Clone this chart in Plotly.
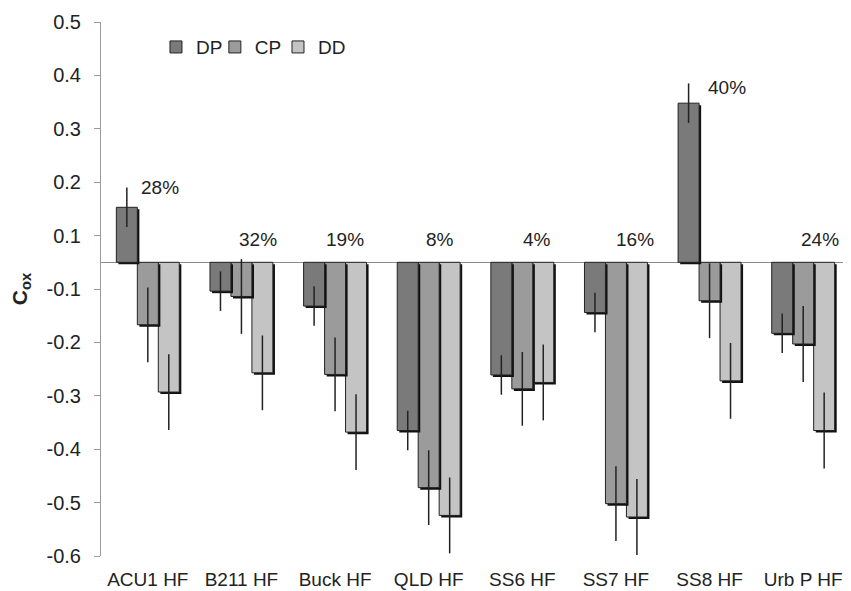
import plotly.graph_objects as go

categories = ["ACU1 HF", "B211 HF", "Buck HF", "QLD HF", "SS6 HF", "SS7 HF", "SS8 HF", "Urb P HF"]
series_names = ["DP", "CP", "DD"]

# values measured from the common baseline of the bars
dp_values = [0.103, -0.054, -0.082, -0.315, -0.211, -0.094, 0.298, -0.133]
cp_values = [-0.117, -0.064, -0.210, -0.422, -0.237, -0.452, -0.072, -0.153]
dd_values = [-0.243, -0.207, -0.318, -0.474, -0.225, -0.477, -0.222, -0.315]

dp_err = [0.037, 0.037, 0.037, 0.037, 0.037, 0.037, 0.037, 0.037]
cp_err = [0.070, 0.070, 0.069, 0.070, 0.069, 0.070, 0.070, 0.071]
dd_err = [0.071, 0.070, 0.071, 0.071, 0.071, 0.071, 0.071, 0.071]

pct_labels = ["28%", "32%", "19%", "8%", "4%", "16%", "40%", "24%"]
pct_y = [0.140, 0.0425, 0.0425, 0.0425, 0.0425, 0.0425, 0.328, 0.0425]

tick_vals = [0.45, 0.35, 0.25, 0.15, 0.05, -0.05, -0.15, -0.25, -0.35, -0.45, -0.55]
tick_text = ["0.5", "0.4", "0.3", "0.2", "0.1", "-0.1", "-0.2", "-0.3", "-0.4", "-0.5", "-0.6"]

values = [dp_values, cp_values, dd_values]
errors = [dp_err, cp_err, dd_err]
colors = ["#7a7a7a", "#9b9b9b", "#c4c4c4"]
offsets = [-0.336, -0.112, 0.112]
legend_ids = ["legend", "legend2", "legend3"]
legend_x = [0.0734, 0.152, 0.2363]
bar_w = 0.224
shadow_dx = 0.022
shadow_dy = -0.0038

fig = go.Figure()
# draw from right to left so each bar's shadow falls over its right neighbour
for i in [2, 1, 0]:
    fig.add_trace(go.Bar(
        x=categories, y=values[i], base=shadow_dy,
        offset=offsets[i] + shadow_dx, width=bar_w,
        marker=dict(color="#111111", line=dict(width=0)),
        showlegend=False, hoverinfo="skip",
    ))
    fig.add_trace(go.Bar(
        x=categories, y=values[i], name=series_names[i],
        offset=offsets[i], width=bar_w, legend=legend_ids[i],
        marker=dict(color=colors[i], line=dict(color="#222222", width=1)),
        error_y=dict(type="data", array=errors[i], visible=True,
                     color="#222222", thickness=1.5, width=0),
    ))

xshifts = [12, 17, 10, 11, 15, 19, 17, 17]
for c, t, y, dx in zip(categories, pct_labels, pct_y, xshifts):
    fig.add_annotation(x=c, y=y, text=t, showarrow=False, xshift=dx,
                       font=dict(size=19, color="#222222"))

legend_style = dict(orientation="h", y=0.953, xanchor="left", yanchor="middle",
                    bgcolor="rgba(0,0,0,0)", font=dict(size=19), itemwidth=30)

# the page body adds an 8 px margin, so the figure is 8 px smaller each way
fig.update_layout(
    width=843, height=583,
    margin=dict(l=93, r=1, t=14, b=35),
    plot_bgcolor="white", paper_bgcolor="white",
    barmode="overlay",
    font=dict(family="Liberation Sans, Arial, sans-serif", size=19, color="#222222"),
    legend=dict(x=legend_x[0], **legend_style),
    legend2=dict(x=legend_x[1], **legend_style),
    legend3=dict(x=legend_x[2], **legend_style),
    xaxis=dict(range=[-0.5, 7.5], showline=False, showgrid=False, zeroline=False,
               automargin=False,
               ticks="", ticklabelstandoff=10, tickfont=dict(size=19)),
    yaxis=dict(range=[-0.55, 0.45], tickvals=tick_vals, ticktext=tick_text,
               automargin=False,
               showgrid=False, showline=True, linecolor="#9a9a9a", linewidth=1,
               ticks="outside", ticklen=6, tickcolor="#9a9a9a",
               ticklabelstandoff=9, tickfont=dict(size=20),
               zeroline=True, zerolinecolor="#8a8a8a", zerolinewidth=1,
               title=dict(text="<b>C<sub>ox</sub></b>", font=dict(size=21), standoff=15)),
)

fig.write_html("out.html")
